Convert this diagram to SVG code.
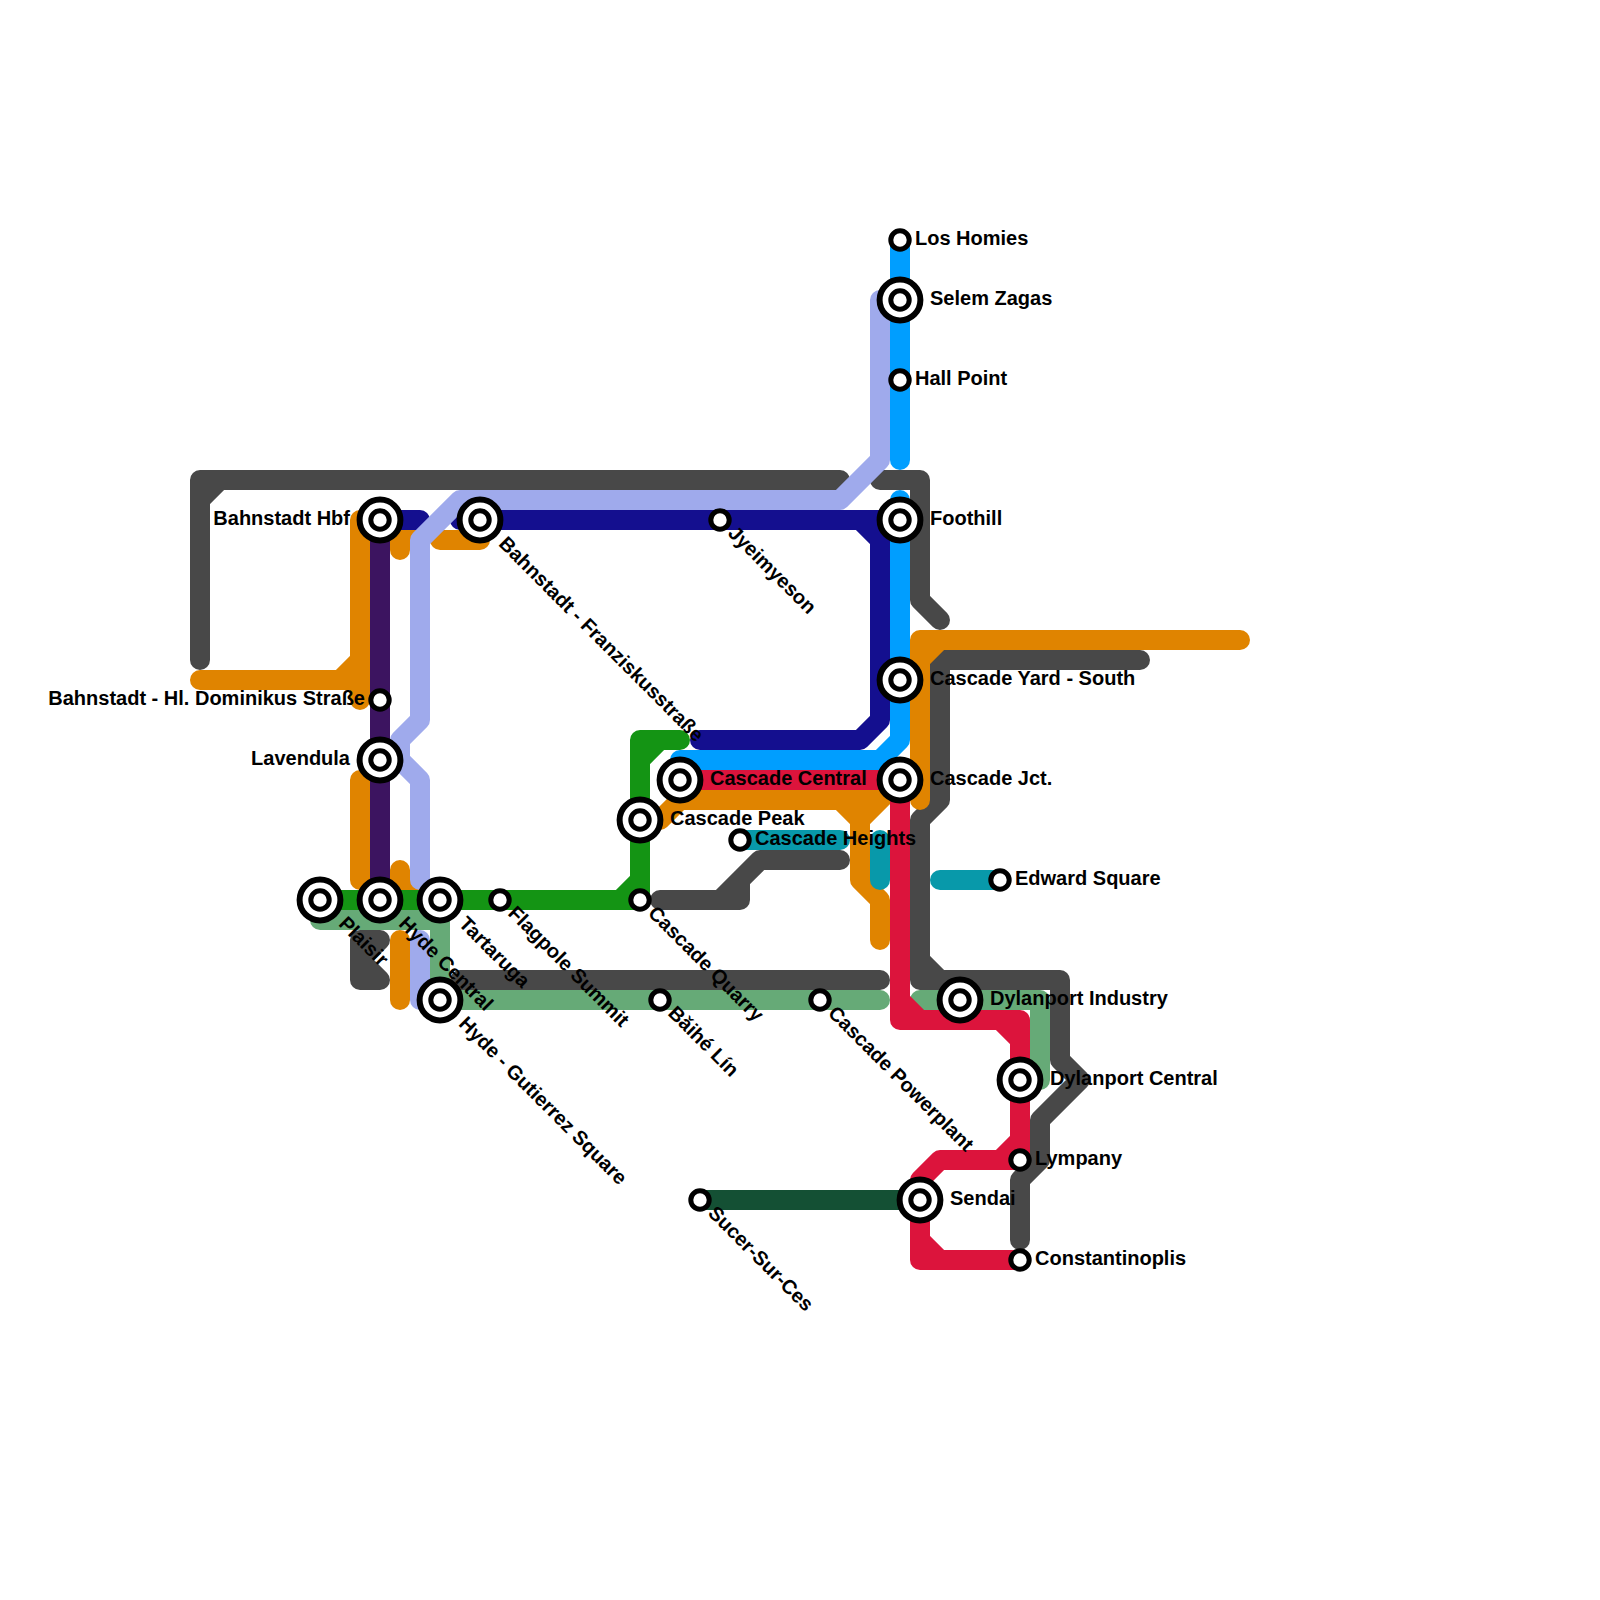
<svg xmlns="http://www.w3.org/2000/svg" width="1600" height="1600" viewBox="0 0 1600 1600">
<defs>
<style>
.l{fill:none;stroke-width:20;stroke-linecap:round;stroke-linejoin:round}
.grey{stroke:#484848}.sage{stroke:#66AA77}.navy{stroke:#140F8F}.orange{stroke:#E08400}.peri{stroke:#9FAAEC}.purple{stroke:#3C1460}.green{stroke:#149414}.blue{stroke:#009EFF}.red{stroke:#DC143C}.teal{stroke:#0899AA}.dgreen{stroke:#145034}
.a{fill:#fff;stroke:#000;stroke-width:6}
.c{fill:#fff;stroke:#000;stroke-width:5}
text{font-family:"Liberation Sans",Arial,sans-serif;font-weight:700;font-size:20px;fill:#000}
.e{text-anchor:end}
</style>
<g id="big"><circle class="a" r="20.4"/><circle class="c" r="9.2"/></g>
<g id="small"><circle class="c" r="9.2"/></g>
</defs>
<g id="connectors">
<path class="l grey" d="M200 660V480H840M200 500L220 480"/>
<path class="l grey" d="M880 480H920V600L940 620"/>
<path class="l grey" d="M1140 660H940V800L920 820V980H1060V1060L1080 1080L1040 1120V1160L1020 1180V1240M920 960L940 980"/>
<path class="l grey" d="M460 980H880"/>
<path class="l grey" d="M380 940H360V980H380L360 960L380 940"/>
<path class="l grey" d="M660 900H740V880L760 860H840M720 900L740 880"/>
<path class="l sage" d="M320 900V920H440V1000H880"/>
<path class="l sage" d="M920 1000H1040V1080H1020"/>
<path class="l navy" d="M380 520H420"/>
<path class="l navy" d="M460 520H880V720L860 740H700M860 520L880 540"/>
<path class="l orange" d="M200 680H360M340 680L360 660M360 520V700"/>
<path class="l orange" d="M360 780V880H400M400 870V880L420 900H440"/>
<path class="l orange" d="M400 550V540H420"/>
<path class="l orange" d="M440 540H480"/>
<path class="l orange" d="M400 940V1000"/>
<path class="l orange" d="M640 820H660L680 800H880L860 820V880L880 900V940M840 800L860 820M900 780L880 800"/>
<path class="l orange" d="M1240 640H920V800M920 660L940 640"/>
<path class="l peri" d="M880 300V460L840 500H460L420 540V720L400 740V760L420 780V880"/>
<path class="l peri" d="M420 940V1000H440"/>
<path class="l purple" d="M380 520V900"/>
<path class="l green" d="M320 900H620L640 880M640 900V740H680M640 760L660 740M620 900H640"/>
<path class="l blue" d="M900 240V460"/>
<path class="l blue" d="M900 500V740L880 760H680"/>
<path class="l red" d="M680 780H900V1020H1020V1140L1000 1160H940L920 1180V1260H1020M900 1000L920 1020M1000 1020L1020 1040M920 1240L940 1260M1020 1140V1160H1000"/>
<path class="l teal" d="M740 840H840"/>
<path class="l teal" d="M880 840V880"/>
<path class="l teal" d="M940 880H1000"/>
<path class="l dgreen" d="M700 1200H920"/>
</g>
<g id="s1"><use href="#big" x="380" y="520"/><text class="e" x="350" y="525">Bahnstadt Hbf</text></g>
<g id="s2"><use href="#small" x="380" y="700"/><text class="e" x="365" y="705">Bahnstadt - Hl. Dominikus Straße</text></g>
<g id="s3"><use href="#big" x="380" y="760"/><text class="e" x="350" y="765">Lavendula</text></g>
<g id="s4"><use href="#big" x="320" y="900"/><text x="350" y="905" transform="rotate(45 320 900)">Plaisir</text></g>
<g id="s5"><use href="#big" x="380" y="900"/><text x="410" y="905" transform="rotate(45 380 900)">Hyde Central</text></g>
<g id="s6"><use href="#big" x="440" y="900"/><text x="470" y="905" transform="rotate(45 440 900)">Tartaruga</text></g>
<g id="s7"><use href="#big" x="440" y="1000"/><text x="470" y="1005" transform="rotate(45 440 1000)">Hyde - Gutierrez Square</text></g>
<g id="s8"><use href="#big" x="480" y="520"/><text x="510" y="525" transform="rotate(45 480 520)">Bahnstadt - Franziskusstraße</text></g>
<g id="s9"><use href="#small" x="500" y="900"/><text x="515" y="905" transform="rotate(45 500 900)">Flagpole Summit</text></g>
<g id="s10"><use href="#small" x="640" y="900"/><text x="655" y="905" transform="rotate(45 640 900)">Cascade Quarry</text></g>
<g id="s11"><use href="#small" x="720" y="520"/><text x="735" y="525" transform="rotate(45 720 520)">Jyeimyeson</text></g>
<g id="s12"><use href="#small" x="660" y="1000"/><text x="675" y="1005" transform="rotate(45 660 1000)">Bǎihé Lín</text></g>
<g id="s13"><use href="#small" x="820" y="1000"/><text x="835" y="1005" transform="rotate(45 820 1000)">Cascade Powerplant</text></g>
<g id="s14"><use href="#small" x="700" y="1200"/><text x="715" y="1205" transform="rotate(45 700 1200)">Sucer-Sur-Ces</text></g>
<g id="s15"><use href="#big" x="680" y="780"/><text x="710" y="785">Cascade Central</text></g>
<g id="s16"><use href="#big" x="640" y="820"/><text x="670" y="825">Cascade Peak</text></g>
<g id="s17"><use href="#small" x="740" y="840"/><text x="755" y="845">Cascade Heights</text></g>
<g id="s18"><use href="#small" x="900" y="240"/><text x="915" y="245">Los Homies</text></g>
<g id="s19"><use href="#big" x="900" y="300"/><text x="930" y="305">Selem Zagas</text></g>
<g id="s20"><use href="#small" x="900" y="380"/><text x="915" y="385">Hall Point</text></g>
<g id="s21"><use href="#big" x="900" y="520"/><text x="930" y="525">Foothill</text></g>
<g id="s22"><use href="#big" x="900" y="680"/><text x="930" y="685">Cascade Yard - South</text></g>
<g id="s23"><use href="#big" x="900" y="780"/><text x="930" y="785">Cascade Jct.</text></g>
<g id="s24"><use href="#small" x="1000" y="880"/><text x="1015" y="885">Edward Square</text></g>
<g id="s25"><use href="#big" x="960" y="1000"/><text x="990" y="1005">Dylanport Industry</text></g>
<g id="s26"><use href="#big" x="1020" y="1080"/><text x="1050" y="1085">Dylanport Central</text></g>
<g id="s27"><use href="#small" x="1020" y="1160"/><text x="1035" y="1165">Lympany</text></g>
<g id="s28"><use href="#big" x="920" y="1200"/><text x="950" y="1205">Sendai</text></g>
<g id="s29"><use href="#small" x="1020" y="1260"/><text x="1035" y="1265">Constantinoplis</text></g>
</svg>
